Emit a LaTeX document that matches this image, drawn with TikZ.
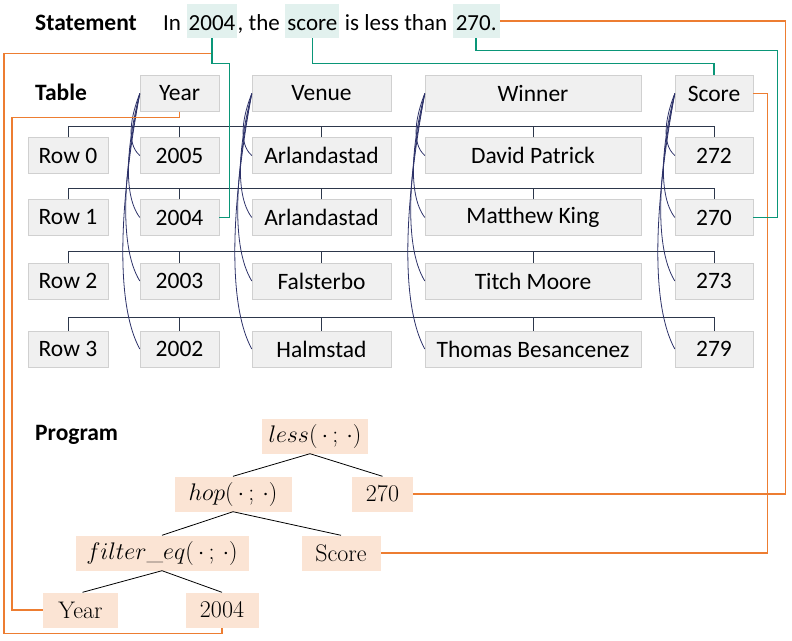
\RequirePackage{fix-cm}
\documentclass[tikz,border=0pt]{standalone}
\usepackage{fontspec}
\newfontfamily\calfont{Carlito}
\usetikzlibrary{calc}
\definecolor{tealc}{RGB}{10,150,120}
\definecolor{orangec}{RGB}{237,125,49}
\definecolor{navyc}{RGB}{45,50,105}
\definecolor{treec}{RGB}{45,55,75}
\definecolor{cellfill}{RGB}{240,240,240}
\definecolor{celldraw}{RGB}{208,208,208}
\definecolor{hlfill}{RGB}{226,241,238}
\definecolor{progfill}{RGB}{251,228,212}
\tikzset{
  cell/.style={draw=celldraw, fill=cellfill, minimum height=36pt, inner sep=0pt,
    font=\calfont\fontsize{23.5}{28}\selectfont},
  stxt/.style={inner xsep=0pt, inner ysep=0pt, text height=26pt, text depth=8pt,
    anchor=base west, font=\calfont\fontsize{23}{29}\selectfont},
  hl/.style={stxt, inner xsep=2pt, fill=hlfill},
  lbl/.style={inner sep=0pt, font=\calfont\bfseries\fontsize{23.5}{28}\selectfont},
  pnode/.style={fill=progfill, inner sep=0pt, minimum height=35pt,
    font=\fontsize{24}{28}\selectfont},
  pedge/.style={draw=black, line width=0.8pt},
  tree/.style={draw=treec, line width=0.9pt},
  curve/.style={draw=navyc, line width=0.8pt},
  tline/.style={draw=tealc, line width=1.4pt},
  oline/.style={draw=orangec, line width=1.4pt},
}
\begin{document}
\begin{tikzpicture}[x=1pt,y=-1pt]
\useasboundingbox (0,0) rectangle (792,640);

% statement
\node[lbl, anchor=base west] (lstat) at (35,30) {Statement};
\node[stxt] (st1) at (163,30) {In\ \null};
\node[hl, at=(st1.base east)] (st2) {2004};
\node[stxt, at=(st2.base east)] (st3) {,\ the\ \null};
\node[hl, at=(st3.base east)] (st4) {score};
\node[stxt, at=(st4.base east)] (st5) {\null\ is\ less\ than\ \null};
\node[hl, at=(st5.base east), inner xsep=3pt] (st6) {270.};

% table
\node[lbl, anchor=west] (ltab) at (35,92) {Table};
\node[cell, minimum width=79pt]  (yh) at (179.5,93.5) {Year};
\node[cell, minimum width=139pt] (vh) at (321.5,93.5) {Venue};
\node[cell, minimum width=216pt] (wh) at (533,93.5) {Winner};
\node[cell, minimum width=78pt]  (sh) at (714,93.5) {Score};

\foreach \r/\yy/\yr/\ve/\wi/\sc in {
  0/155.5/2005/Arlandastad/David Patrick/272,
  1/217.5/2004/Arlandastad/Matthew King/270,
  2/281/2003/Falsterbo/Titch Moore/273,
  3/349/2002/Halmstad/Thomas Besancenez/279}{
  \node[cell, minimum width=80pt]  (rl\r) at (68,\yy) {Row \r};
  \node[cell, minimum width=79pt]  (y\r) at (179.5,\yy) {\yr};
  \node[cell, minimum width=139pt] (v\r) at (321.5,\yy) {\ve};
  \node[cell, minimum width=216pt] (w\r) at (533,\yy) {\wi};
  \node[cell, minimum width=78pt]  (sc\r) at (714,\yy) {\sc};
}

% row trees
\foreach \r/\ly in {0/126,1/188,2/251,3/317}{
  \coordinate (L\r) at (0,\ly);
  \draw[tree] (rl\r.north) -- (rl\r.north |- L\r) -- (sc\r.north |- L\r) -- (sc\r.north);
  \foreach \P in {y,v,w}{
    \draw[tree] (\P\r.north) -- (\P\r.north |- L\r);
  }
}

% column curves
\foreach \H/\P in {yh/y,vh/v,wh/w,sh/sc}{
  \foreach \C/\d in {0/62,1/124,2/187.5,3/255.5}{
    \pgfmathsetmacro\bul{10+0.07*\d}
    \draw[curve] (\H.west) .. controls ($(\H.west)+(-0.6*\bul,0.35*\d)$)
      and ($(\P\C.west)+(-\bul,-0.2*\d)$) .. (\P\C.west);
  }
}

% program
\node[lbl, anchor=west] (lprog) at (35,435) {Program};
\node[pnode, minimum width=106pt] (pless) at (315,436) {$less(\,\cdot\,;\,\cdot)$};
\node[pnode, minimum width=117pt] (phop) at (233,494) {$hop(\,\cdot\,;\,\cdot)$};
\node[pnode, minimum width=61pt] (p270) at (382.5,494) {270};
\node[pnode, minimum width=173pt] (pfilter) at (162,553) {$filter\_eq(\,\cdot\,;\,\cdot)$};
\node[pnode, minimum width=79pt] (pscore) at (341,553) {Score};
\node[pnode, minimum width=75pt] (pyear) at (80.5,610) {Year};
\node[pnode, minimum width=73pt] (p2004) at (222,610) {2004};

\draw[pedge] ($(pless.south)+(-5,0)$) -- (phop.north);
\draw[pedge] ($(pless.south)+(-5,0)$) -- (p270.north);
\draw[pedge] (phop.south) -- (pfilter.north);
\draw[pedge] (phop.south) -- (pscore.north);
\draw[pedge] (pfilter.south) -- ($(pyear.north)+(2,0)$);
\draw[pedge] (pfilter.south) -- (p2004.north);

% orange connectors
\draw[oline] (st2.south) -- ++(0,15) -| ($(p2004.south)+(-218,6)$) -| (p2004.south);
\draw[oline] (yh.south) -- ++(0,6) -| ($(pyear.west)+(-31,0)$) -- (pyear.west);
\draw[oline] (st6.east) -| ($(p270.east)+(372,0)$) -- (p270.east);
\draw[oline] (sh.east) -| ($(pscore.east)+(387,0)$) -- (pscore.east);

% teal connectors
\draw[tline] (st2.south) -- ++(0,25) -| ($(y1.east)+(10,0)$) -- (y1.east);
\draw[tline] (st4.south) -- ++(0,25) -| (sh.north);
\draw[tline] (st6.south) -- ++(0,12) -| ($(sc1.east)+(24,0)$) -- (sc1.east);
\end{tikzpicture}
\end{document}
